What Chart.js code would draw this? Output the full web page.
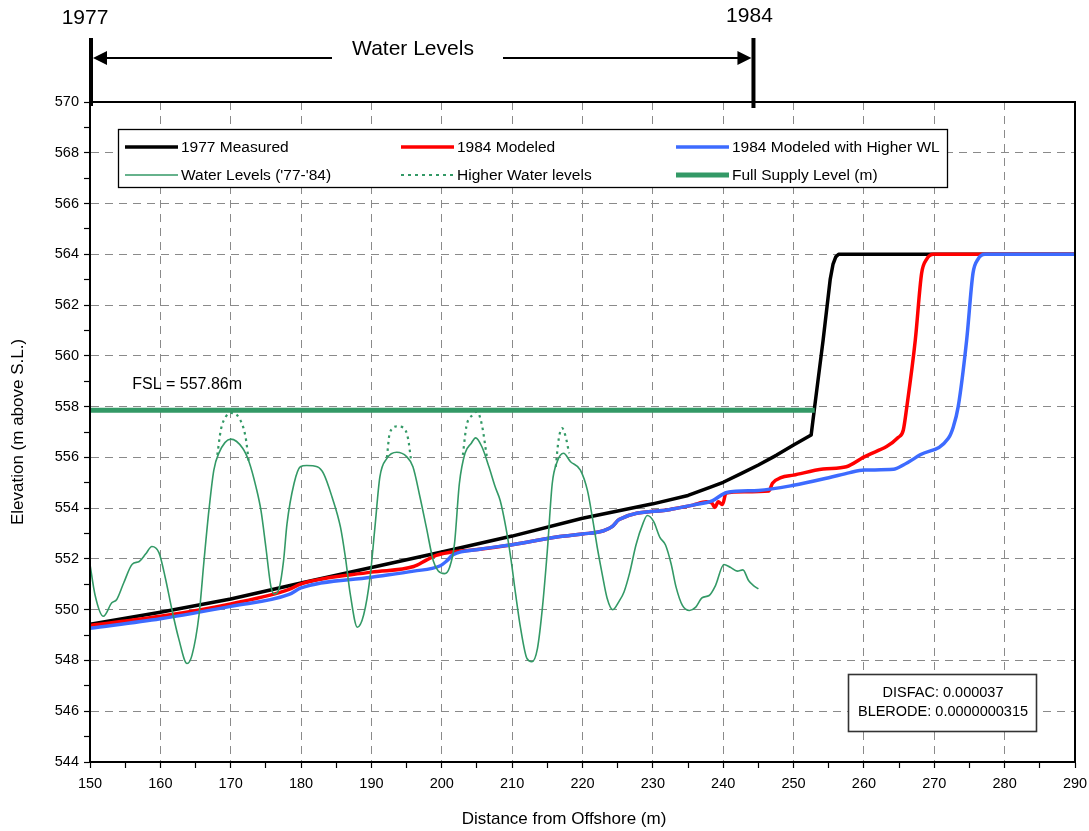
<!DOCTYPE html>
<html><head><meta charset="utf-8">
<script src="https://cdn.jsdelivr.net/npm/chart.js@4.4.1/dist/chart.umd.min.js"></script>
<style>html,body{margin:0;padding:0;background:#fff;overflow:hidden}canvas{display:block}</style>
</head><body>
<canvas id="c" width="1089" height="831"></canvas>
<script>
// ---------- tick labels ----------
const xTickValues = [150,160,170,180,190,200,210,220,230,240,250,260,270,280,290];
const yTickValues = [544,546,548,550,552,554,556,558,560,562,564,566,568,570];

// ---------- 1977 Measured ----------
const measuredX = [150,160,170,180,190,200,210,220,230,235,238.1,240,242.6,245,247.6,250,252.5,253.0,254.2,255.2,255.6,256.0,256.4,270,290];
const measuredY = [549.43,549.9,550.42,551.05,551.66,552.27,552.9,553.6,554.17,554.5,554.82,555.02,555.37,555.7,556.09,556.49,556.88,558.0,560.62,563.0,563.6,563.9,564,564,564];

// ---------- 1984 Modeled ----------
const modeledX = [150,160,170,178.3,180,190,196,197.8,199.2,201,205.4,210,216.8,220,223,224.2,225.2,232.5,235.7,237.6,238.4,238.8,239.3,239.9,240.4,243,246.5,247,248.2,250,254.2,257.5,259.9,264.9,265.6,266.1,267.3,268.2,268.9,269.9,290];
const modeledY = [549.38,549.74,550.23,550.8,551.02,551.48,551.7,551.95,552.14,552.25,552.38,552.56,552.88,552.98,553.11,553.27,553.55,553.95,554.12,554.25,554.2,554.03,554.25,554.14,554.6,554.65,554.68,554.98,555.2,555.3,555.54,555.63,556.0,556.79,557.08,558.0,560.62,563.25,563.8,564,564];

// ---------- 1984 Modeled with Higher WL ----------
const higherWLX = [150,160,170,178.3,180,190,196,199.7,200.7,201.6,205.4,210,216.8,220,223,224.2,225.2,232.5,235.7,238.5,240.5,245,250,255,258,260,264.2,265.6,268,272,272.7,273.4,274.6,275.5,276.2,277.2,290];
const higherWLY = [549.27,549.64,550.13,550.6,550.86,551.28,551.52,551.72,551.92,552.16,552.38,552.56,552.88,552.98,553.11,553.27,553.55,553.95,554.12,554.3,554.62,554.7,554.9,555.2,555.4,555.5,555.53,555.7,556.1,556.75,557.2,558.0,560.62,563.25,563.8,564,564];

// ---------- Water Levels ('77-'84) ----------
const waterX = [150.0,150.7,151.9,153.1,153.8,154.8,156.0,157.0,157.9,158.8,159.8,160.7,161.7,162.6,163.8,164.5,165.5,166.2,166.9,167.6,168.3,170.0,171.7,172.6,173.6,174.3,175.0,175.7,176.2,176.9,177.5,178.0,179.0,179.9,180.8,182.3,183.2,184.4,185.6,186.3,187.0,188.0,188.9,189.8,190.5,191.2,192.2,193.6,195.0,195.9,196.9,197.8,198.8,199.5,200.4,201.1,201.8,202.5,203.3,204.2,204.8,205.7,206.7,207.6,208.3,209.1,209.8,210.5,211.2,212.1,212.8,213.6,214.3,215.0,215.7,216.4,217.3,218.3,219.7,220.7,221.4,222.1,222.8,223.5,224.3,225.2,225.9,226.7,227.6,228.6,229.2,230.1,231.0,231.8,232.6,233.3,234.2,235.2,236.1,237.0,238.0,238.9,240.1,241.0,242.0,242.8,243.6,244.3,245.0];
const waterY = [551.79,550.6,549.74,550.27,550.4,551.06,551.79,551.9,552.19,552.49,552.25,551.26,549.93,548.87,547.88,548.21,549.8,551.92,553.91,555.5,556.16,556.72,556.36,555.83,554.83,553.91,552.45,550.93,550.62,550.86,551.9,553.38,554.97,555.63,555.68,555.63,555.36,554.44,553.25,552.06,550.6,549.31,549.8,551.26,553.25,555.23,555.96,556.2,556.03,555.63,554.44,553.25,551.92,551.52,551.42,551.66,552.58,554.97,556.16,556.56,556.77,556.42,555.63,554.83,554.3,553.25,552.05,550.6,549.27,548.08,547.95,548.48,550.07,552.32,554.97,555.83,556.16,555.83,555.5,554.7,553.64,552.45,551.4,550.45,550.0,550.33,550.7,551.45,552.55,553.4,553.71,553.48,552.85,552.55,551.8,550.89,550.17,549.97,550.1,550.47,550.56,550.95,551.78,551.67,551.52,551.57,551.15,550.95,550.82];

// ---------- Higher Water levels (where above the recorded levels) ----------
const higherWaterX = [168.1,168.6,169.3,170.0,171.2,172.1,172.6,null,192.2,192.6,193.6,194.5,195.2,195.6,null,203.0,203.5,204.4,205.0,205.7,206.4,null,216.2,216.6,217.1,217.6,218.1];
const higherWaterY = [556.1,557.09,557.6,557.75,557.55,556.82,555.76,null,556.0,556.95,557.22,557.18,556.75,555.96,null,556.1,557.22,557.68,557.8,557.28,556.03,null,555.63,556.69,557.15,556.82,556.16];

// ---------- Full Supply Level ----------
const fslX = [150,253];
const fslY = [557.86,557.86];
const fslValue = 557.86;

// ---------- annotations ----------
const markerYears = ['1977','1984'];
const markerX = [150,244.3];
const parameterLines = ['DISFAC: 0.000037','BLERODE: 0.0000000315'];

function pts(xs, ys){
  const out=[];
  for(let i=0;i<xs.length;i++){
    if(ys[i]===null){ out.push({x:(xs[i-1]+xs[i+1])/2, y:null}); }
    else out.push({x:xs[i], y:ys[i]});
  }
  return out;
}

const FONT = '"Liberation Sans", Arial, sans-serif';
const GREEN = '#339966';
const BLUE = '#3d6bff';
const GRID = '#8a8a8a';

const legendItems = [
  {label:'1977 Measured', color:'#000000', width:3.5, dash:[]},
  {label:'1984 Modeled', color:'#ff0000', width:3.5, dash:[]},
  {label:'1984 Modeled with Higher WL', color:BLUE, width:3.5, dash:[]},
  {label:"Water Levels ('77-'84)", color:GREEN, width:1.6, dash:[]},
  {label:'Higher Water levels', color:GREEN, width:2, dash:[3,4]},
  {label:'Full Supply Level (m)', color:GREEN, width:5, dash:[]}
];

const decor = {
  id:'decor',
  beforeDraw(chart){
    const c=chart.ctx; c.save(); c.fillStyle='#fff'; c.fillRect(0,0,chart.width,chart.height); c.restore();
  },
  afterDatasetsDraw(chart){
    const c=chart.ctx, a=chart.chartArea, xs=chart.scales.x, ys=chart.scales.y;
    c.save();
    // legend box
    c.fillStyle='#fff'; c.fillRect(118,129,830,59);
    c.strokeStyle='#000'; c.lineWidth=1.3; c.strokeRect(118.5,129.5,829,58);
    const colX=[125,401,676], rowY=[147,175];
    legendItems.forEach((it,i)=>{
      const col=i%3,row=Math.floor(i/3);
      const x0=colX[col], y=rowY[row];
      c.beginPath(); c.setLineDash(it.dash); c.lineWidth=it.width; c.strokeStyle=it.color;
      c.moveTo(x0,y); c.lineTo(x0+53,y); c.stroke(); c.setLineDash([]);
      c.fillStyle='#000'; c.font='15.5px '+FONT; c.textAlign='left'; c.textBaseline='middle';
      c.fillText(it.label, x0+56, y+1);
    });
    // parameter box
    c.fillStyle='#fff'; c.fillRect(848,674,189,58);
    c.strokeStyle='#333'; c.lineWidth=1.6; c.strokeRect(848.5,674.5,188,57);
    c.fillStyle='#000'; c.font='14.5px '+FONT; c.textAlign='center'; c.textBaseline='middle';
    c.fillText(parameterLines[0], 943, 693);
    c.fillText(parameterLines[1], 943, 712);
    // FSL label
    c.font='16px '+FONT; c.textAlign='left';
    c.fillText('FSL = '+fslValue.toFixed(2)+'m', xs.getPixelForValue(156), ys.getPixelForValue(558.85));
    // frame
    c.strokeStyle='#000'; c.lineWidth=2;
    c.strokeRect(a.left, a.top, a.right-a.left, a.bottom-a.top);
    // top annotation
    const p0=xs.getPixelForValue(markerX[0]), p1=xs.getPixelForValue(markerX[1]);
    c.lineWidth=4; c.beginPath();
    c.moveTo(p0+1,38); c.lineTo(p0+1,106); c.moveTo(p1,38); c.lineTo(p1,108); c.stroke();
    c.font='21px '+FONT; c.textAlign='center'; c.textBaseline='middle';
    c.fillText(markerYears[0], p0-5, 18);
    c.fillText(markerYears[1], p1-4, 16);
    c.fillText('Water Levels', 413, 49);
    c.lineWidth=2; c.beginPath();
    c.moveTo(p0+14,58); c.lineTo(332,58); c.moveTo(503,58); c.lineTo(p1-14,58); c.stroke();
    c.beginPath(); c.moveTo(p0+3,58); c.lineTo(p0+17,51); c.lineTo(p0+17,65); c.closePath(); c.fill();
    c.beginPath(); c.moveTo(p1-2,58); c.lineTo(p1-16,51); c.lineTo(p1-16,65); c.closePath(); c.fill();
    // axis titles
    c.font='17px '+FONT; c.textAlign='center'; c.textBaseline='middle';
    c.fillText('Distance from Offshore (m)', 564, 819);
    c.translate(18, 432); c.rotate(-Math.PI/2);
    c.fillText('Elevation (m above S.L.)', 0, 0);
    c.restore();
  }
};

const lineDS = (label, xs, ys, color, width, extra) => Object.assign({
  label, data: pts(xs, ys), showLine:true, borderColor:color, backgroundColor:color,
  borderWidth:width, pointRadius:0, pointHoverRadius:0, cubicInterpolationMode:'monotone', spanGaps:false
}, extra||{});

new Chart(document.getElementById('c'), {
  type:'scatter',
  data:{ datasets:[
    lineDS("Water Levels ('77-'84)", waterX, waterY, GREEN, 1.6),
    lineDS('Higher Water levels', higherWaterX, higherWaterY, GREEN, 2.2, {borderDash:[2.5,4]}),
    lineDS('Full Supply Level (m)', fslX, fslY, GREEN, 5),
    lineDS('1984 Modeled with Higher WL', higherWLX, higherWLY, BLUE, 3.5),
    lineDS('1984 Modeled', modeledX, modeledY, '#ff0000', 3.5),
    lineDS('1977 Measured', measuredX, measuredY, '#000000', 3.5, {cubicInterpolationMode:'default', tension:0, borderJoinStyle:'round'})
  ]},
  options:{
    responsive:false, animation:false, devicePixelRatio:1,
    layout:{padding:{left:0, top:102, right:14, bottom:0}},
    plugins:{legend:{display:false}, tooltip:{enabled:false}, title:{display:false}},
    events:[],
    scales:{
      x:{ type:'linear', min:150, max:290,
        afterFit(s){ s.height = 69; s.paddingLeft = 0; s.paddingRight = 0; },
        ticks:{ stepSize:5, autoSkip:false, maxRotation:0, padding:7, color:'#000',
          font:{family:FONT, size:14.5},
          callback:v => xTickValues.includes(v) ? String(v) : '' },
        grid:{ color:ctx => (ctx.tick && xTickValues.includes(ctx.tick.value)) ? GRID : 'rgba(0,0,0,0)',
          tickColor:'#000', tickLength:6, tickWidth:1.2, tickBorderDash:[], lineWidth:1 },
        border:{ display:true, color:'#000', width:2, dash:[8,6] }
      },
      y:{ type:'linear', min:544, max:570,
        afterFit(s){ s.width = 90; s.paddingTop = 0; s.paddingBottom = 0; },
        ticks:{ stepSize:1, autoSkip:false, padding:5, color:'#000',
          font:{family:FONT, size:14.5},
          callback:v => yTickValues.includes(v) ? String(v) : '' },
        grid:{ color:ctx => (ctx.tick && yTickValues.includes(ctx.tick.value)) ? GRID : 'rgba(0,0,0,0)',
          tickColor:'#000', tickLength:6, tickWidth:1.2, tickBorderDash:[], lineWidth:1 },
        border:{ display:true, color:'#000', width:2, dash:[8,6] }
      }
    }
  },
  plugins:[decor]
});
</script>
</body></html>
